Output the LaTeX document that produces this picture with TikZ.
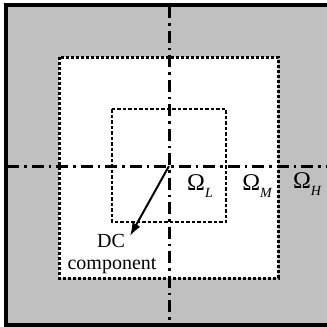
\documentclass[tikz,border=0pt]{standalone}
\usepackage{fontspec}
\setmainfont{Liberation Serif}
\usetikzlibrary{arrows.meta}
\newcommand{\band}[1]{\fontsize{24}{26}\selectfont\char"03A9\raisebox{-7pt}{\fontsize{14}{16}\selectfont\itshape #1}}
\tikzset{
  axisline/.style={line width=3pt, dash pattern=on 12pt off 5pt on 2.5pt off 5pt},
  lowband/.style={line width=2.8pt, dash pattern=on 3.5pt off 2pt},
  midband/.style={line width=3pt, dash pattern=on 3.2pt off 1.8pt},
  lbl/.style={font=\fontsize{20}{22}\selectfont, inner sep=0pt}
}
\begin{document}
\begin{tikzpicture}[x=1pt, y=-1pt]
  \useasboundingbox (0,0) rectangle (327,327);
  % high band
  \draw[line width=3.2pt, fill={rgb,255:red,192;green,192;blue,192}] (6,5) rectangle (330,325);
  % middle and low band
  \draw[midband, fill=white] (59,57) rectangle (278,278);
  \draw[lowband] (112,109) rectangle (226,222);
  % axes
  \coordinate (c) at (169,166);
  \draw[axisline] (169,6) -- (169,324);
  \draw[axisline] (7,166) -- (327,166);
  % labels
  \node[lbl] (wl) at (200,186) {\band{L}};
  \node[lbl] (wm) at (257,186) {\band{M}};
  \node[lbl] (wh) at (307,184) {\band{H}};
  \node[lbl] (dc) at (111,241) {DC};
  \node[lbl] (comp) at (112,266) {component};
  \coordinate (tip) at (130,236);
  \draw[line width=2pt, -{Latex[length=13pt, width=9pt]}] (c) -- (tip);
\end{tikzpicture}
\end{document}
